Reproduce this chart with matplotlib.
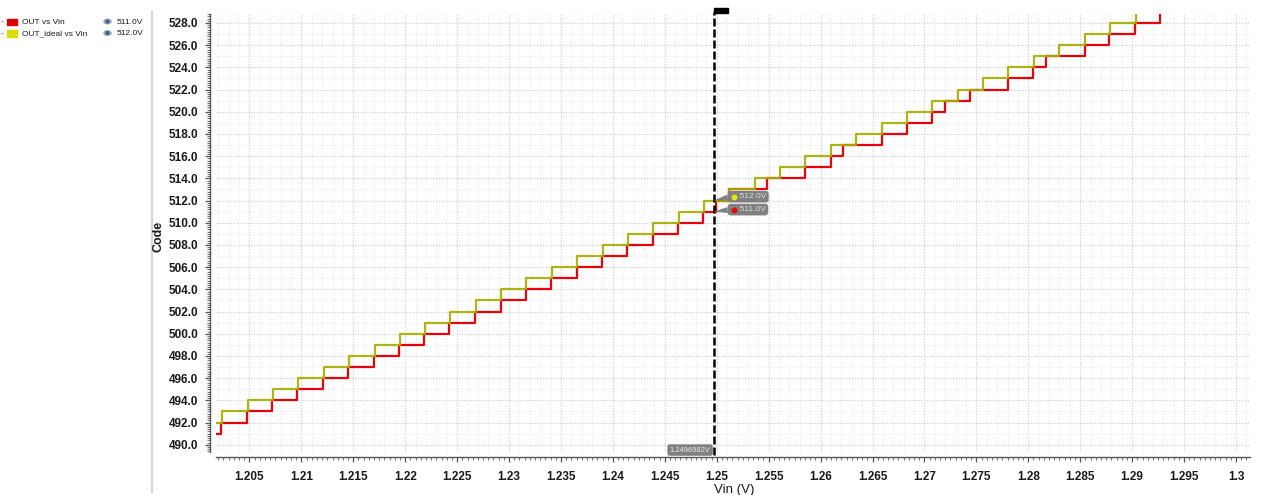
import matplotlib
matplotlib.use('Agg')
import matplotlib.pyplot as plt
import matplotlib.transforms as mtransforms
from matplotlib.patches import Rectangle, Ellipse, Circle
from matplotlib.ticker import MultipleLocator, FuncFormatter
import numpy as np

plt.rcParams['font.family'] = ['Liberation Sans', 'DejaVu Sans']

# Vin sweep seen on the chart (V)
vin_first = 1.2018
vin_last = 1.30

# OUT_ideal vs Vin: start code, Vin at each code change, new code
ideal_start = 492
ideal_edges = [1.20239, 1.20484, 1.20724, 1.20971, 1.21216, 1.21459, 1.21707, 1.21950,
               1.22188, 1.22432, 1.22682, 1.22923, 1.23166, 1.23411, 1.23655, 1.23902,
               1.24143, 1.24389, 1.24634, 1.24877, 1.25121, 1.25369, 1.25609, 1.25853,
               1.26098, 1.26341, 1.26589, 1.26829, 1.27076, 1.27320, 1.27567, 1.27808,
               1.28055, 1.28299, 1.28543, 1.28787, 1.29034]
ideal_codes = [493, 494, 495, 496, 497, 498, 499, 500, 501, 502, 503, 504, 505, 506,
               507, 508, 509, 510, 511, 512, 513, 514, 515, 516, 517, 518, 519, 520,
               521, 522, 523, 524, 525, 526, 527, 528, 529]

# OUT vs Vin
out_start = 491
out_edges = [1.20229, 1.20474, 1.20718, 1.20961, 1.21206, 1.21449, 1.21697, 1.21941,
             1.22178, 1.22425, 1.22675, 1.22920, 1.23161, 1.23407, 1.23652, 1.23895,
             1.24139, 1.24386, 1.24627, 1.24871, 1.24993, 1.25118, 1.25481, 1.25853,
             1.26098, 1.26219, 1.26589, 1.26829, 1.27076, 1.27198, 1.27439, 1.27808,
             1.28048, 1.28171, 1.28546, 1.28780, 1.29028, 1.29268]
out_codes = [492, 493, 494, 495, 496, 497, 498, 499, 500, 501, 502, 503, 504, 505,
             506, 507, 508, 509, 510, 511, 512, 513, 514, 515, 516, 517, 518, 519,
             520, 521, 522, 523, 524, 525, 526, 527, 528, 529]

cursor_vin = 1.2496982
cursor_out = 511.0
cursor_ideal = 512.0

red = '#e8000b'
olive = '#a6ae00'
grey = '#808080'
W, H = 1267, 495

fig = plt.figure(figsize=(W / 100, H / 100), dpi=100)
px = mtransforms.Affine2D().scale(1 / W, -1 / H).translate(0, 1) + fig.transFigure

ax = fig.add_axes([216 / W, 1 - 452 / H, (1250 - 216) / W, (452 - 14) / H])
ax.set_xlim(1.20178, 1.30135)
ax.set_ylim(489.35, 528.81)

# grid: light every 1 code / 1 mV, a bit darker on major ticks
for v in np.arange(490, 529, 1):
    ax.axhline(v, color='#e9e9e9', lw=0.8, ls=(0, (1, 1.6)), zorder=0)
for v in np.arange(1.202, 1.3015, 0.001):
    ax.axvline(v, color='#e9e9e9', lw=0.8, ls=(0, (1, 1.6)), zorder=0)
ax.grid(True, which='major', color='#d0d0d0', lw=0.8, ls=(0, (1, 1.6)), zorder=0)

x_ideal = [vin_first] + ideal_edges + [vin_last]
y_ideal = [ideal_start] + ideal_codes + [ideal_codes[-1]]
x_out = [vin_first] + out_edges + [vin_last]
y_out = [out_start] + out_codes + [out_codes[-1]]
ax.step(x_out, y_out, where='post', color=red, lw=1.6, zorder=3)
ax.step(x_ideal, y_ideal, where='post', color=olive, lw=1.6, alpha=0.92, zorder=4)

# axes styling
for s in ['top', 'right']:
    ax.spines[s].set_visible(False)
ax.spines['left'].set_position(('outward', 4.3))
ax.spines['bottom'].set_position(('outward', 3.6))
for s in ['left', 'bottom']:
    ax.spines[s].set_color('#555555')
    ax.spines[s].set_linewidth(1.0)
ax.xaxis.set_major_locator(MultipleLocator(0.005))
ax.xaxis.set_minor_locator(MultipleLocator(0.0005))
ax.yaxis.set_major_locator(MultipleLocator(2))
ax.yaxis.set_minor_locator(MultipleLocator(0.2))
ax.xaxis.set_major_formatter(FuncFormatter(lambda v, p: ('%.3f' % v).rstrip('0').rstrip('.')))
ax.yaxis.set_major_formatter(FuncFormatter(lambda v, p: '%.1f' % v))
ax.tick_params(axis='x', which='major', length=3.4, width=0.9, color='#555555', pad=7,
               labelsize=8.5, labelcolor='#1a1a1a')
ax.tick_params(axis='x', which='minor', length=1.9, width=0.8, color='#777777')
ax.tick_params(axis='y', which='major', length=3.6, width=0.9, color='#555555', pad=5,
               labelsize=8.5, labelcolor='#1a1a1a')
ax.tick_params(axis='y', which='minor', length=1.9, width=0.8, color='#777777')
for lab in ax.get_xticklabels() + ax.get_yticklabels():
    lab.set_fontweight('bold')

# cursor
bl = mtransforms.blended_transform_factory(ax.transData, ax.transAxes)
ax.plot([cursor_vin, cursor_vin], [-0.007, 1.005], transform=bl, clip_on=False,
        color='black', lw=1.8, ls=(0, (3.2, 1.2)), zorder=6)
ax.add_patch(Rectangle((cursor_vin, 1.0034), 0.00135, 0.0103, transform=bl,
                       clip_on=False, color='black', zorder=6))
ax.annotate('1.2496982V', xy=(cursor_vin, 0.0), xycoords=bl, xytext=(-2.2, 1.4),
            textcoords='offset points', ha='right', va='center', fontsize=5.4,
            color='#eeeeee', zorder=7,
            bbox=dict(boxstyle='round,pad=0.3,rounding_size=0.3', fc=grey, ec='none'))

for code, col, dy in [(cursor_ideal, '#e6e600', 2.8), (cursor_out, '#e8000b', 1.5)]:
    ax.annotate('    %.1fV' % code, xy=(cursor_vin, code), xytext=(11.8, dy),
                textcoords='offset points', ha='left', va='center', fontsize=6,
                color='#dddddd', zorder=7,
                bbox=dict(boxstyle='round,pad=0.28,rounding_size=0.35', fc=grey, ec='none'),
                arrowprops=dict(arrowstyle='wedge,tail_width=0.7,shrink_factor=0.5',
                                fc=grey, ec='none', shrinkA=0, shrinkB=0,
                                relpos=(0.05, 0.5)))
    off = mtransforms.ScaledTranslation((11.8 + 3.0) / 72, dy / 72, fig.dpi_scale_trans)
    ax.plot(cursor_vin, code, 'o', ms=4.2, color=col, mec='none',
            transform=ax.transData + off, zorder=8, clip_on=False)

# axis titles
fig.text(158.5 / W, 1 - 236 / H, 'Code', rotation=90, ha='center', va='center',
         fontsize=9, fontweight='bold', color='#1a1a1a')
fig.text(734 / W, 1 - 492.5 / H, 'Vin (V)', ha='center', va='baseline',
         fontsize=9.5, color='#1a1a1a')

# left legend panel
fig.add_artist(plt.Line2D([151.5, 151.5], [12, 492], transform=px, color='#d6d6d6', lw=1.6))
rows = [('OUT vs Vin', '#e00000', '511.0V', 22), ('OUT_ideal vs Vin', '#dcdc00', '512.0V', 33.5)]
for name, col, val, y in rows:
    fig.text(1, y, '-', transform=px, fontsize=6, va='center', color='#333333')
    fig.add_artist(Rectangle((7.3, y - 3.3), 9.4, 6.6, transform=px, color=col))
    fig.text(22, y, name, transform=px, fontsize=6, va='center', color='#1a1a1a')
    fig.add_artist(Ellipse((107.5, y - 0.5), 7, 4.6, transform=px, color='#9aa8c0'))
    fig.add_artist(Circle((107.5, y - 0.5), 1.3, transform=px, color='#4a5c80'))
    fig.text(116.5, y, val, transform=px, fontsize=6, va='center', color='#1a1a1a')

fig.savefig('out.png', dpi=100, facecolor='white')
